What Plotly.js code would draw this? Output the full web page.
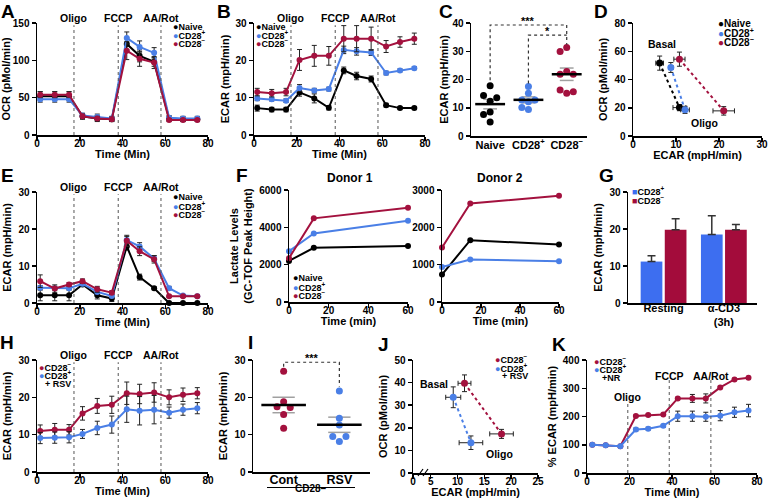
<!DOCTYPE html>
<html><head><meta charset="utf-8">
<script src="https://cdn.plot.ly/plotly-3.0.1.min.js"></script>
<style>html,body{margin:0;padding:0;background:#fff}#chart{width:768px;height:501px}</style>
</head><body><div id="chart"></div>
<script>
// ================= DATA =================
const seahorseTime = [1.5, 8.3, 15, 21.3, 28.2, 35, 42, 48, 54.8, 61.8, 68.3, 75];
const injectionNames = ['Oligo', 'FCCP', 'AA/Rot'];
const injectionTime = [17.3, 38, 58];

// A: OCR (pMol/min)
const aNaive    = [52, 52, 52, 25, 22, 21, 122, 106, 98, 22, 21, 21];
const aNaiveErr = [6, 6, 6, 4, 4, 3, 8, 8, 6, 3, 3, 3];
const aPlus     = [48, 48, 48, 26, 24, 22, 130, 118, 110, 23, 22, 22];
const aPlusErr  = [4, 4, 4, 3, 4, 3, 8, 8, 7, 3, 3, 3];
const aMinus    = [54, 54, 54, 25, 22, 21, 113, 102, 97, 20, 20, 20];
const aMinusErr = [4, 4, 4, 3, 3, 3, 12, 10, 8, 2, 2, 2];

// B: ECAR (mpH/min)
const bNaive    = [7.2, 6.8, 6.8, 11.4, 9.8, 7.3, 17.3, 15.8, 15.0, 8.0, 7.2, 7.2];
const bNaiveErr = [0.8, 0.6, 0.6, 1, 1.2, 0.6, 0.9, 1, 0.8, 0.5, 0.4, 0.4];
const bPlus     = [9.8, 9.6, 9.2, 12.6, 11.9, 12.3, 22.8, 22.4, 22.1, 16.6, 17.3, 17.9];
const bPlusErr  = [0.6, 0.5, 0.5, 0.9, 0.6, 0.5, 1, 1, 0.8, 0.5, 0.4, 0.4];
const bMinus    = [11.5, 11.2, 11.5, 20.1, 21.2, 21.2, 25.8, 25.8, 25.8, 23.7, 24.9, 25.8];
const bMinusErr = [1, 1, 1, 2.8, 2.8, 2.5, 3.5, 3.5, 3.1, 1.6, 1.4, 1.5];

// C: ECAR per donor
const cGroups = ['Naive', 'CD28<sup>+</sup>', 'CD28<sup>−</sup>'];
const cNaive = [17.8, 12.3, 5.0, 14.3, 13.5, 8.5, 7.6];
const cPlus  = [17.5, 15.1, 12.1, 12.7, 12.7, 10.1, 9.4];
const cMinus = [31.3, 29.9, 22.8, 21.9, 21.9, 15.1, 16.3, 15.7];

// D: OCR vs ECAR (basal, oligo)
const dNaiveECAR = [6.2, 10.8],  dNaiveECARErr = [0.9, 1.5], dNaiveOCR = [51.6, 20.1], dNaiveOCRErr = [5, 2.2];
const dPlusECAR  = [8.8, 12.1],  dPlusECARErr  = [0.5, 1.0], dPlusOCR  = [48.5, 18.5], dPlusOCRErr  = [3.5, 2.5];
const dMinusECAR = [10.8, 21.1], dMinusECARErr = [1.3, 2.5], dMinusOCR = [54.4, 17.8], dMinusOCRErr = [5, 3];

// E: ECAR
const eNaive    = [2.1, 2.1, 2.1, 5, 2.1, 1.2, 15.3, 7, 4, 0, 0, 0];
const eNaiveErr = [1.5, 1.5, 1.5, 0.5, 1, 0.8, 1, 0.8, 0.4, 0.2, 0.2, 0.2];
const ePlus     = [4.1, 4, 4, 5.2, 3, 1.9, 17, 15.3, 12, 4, 2, 1.8];
const ePlusErr  = [0.6, 0.5, 0.5, 0.6, 0.5, 0.5, 1, 1, 0.8, 0.5, 0.3, 0.3];
const eMinus    = [5.9, 3.9, 5, 5.9, 3.7, 2.8, 16.8, 14, 11.8, 1.8, 1.8, 1.8];
const eMinusErr = [1.7, 1, 0.5, 0.6, 0.8, 0.5, 1.5, 1.2, 1, 0.3, 0.3, 0.3];

// F: Lactate levels
const fTimeD1  = [0, 12.5, 60];
const fNaiveD1 = [2200, 2900, 3000];
const fPlusD1  = [2720, 3670, 4350];
const fMinusD1 = [2350, 4480, 5050];
const fTimeD2  = [0, 14.5, 60];
const fNaiveD2 = [735, 1655, 1540];
const fPlusD2  = [940, 1137, 1092];
const fMinusD2 = [1460, 2640, 2847];

// G: ECAR bars
const gGroups   = ['Resting', 'α-CD3<br>(3h)'];
const gPlus     = [11.2, 18.5];
const gPlusErr  = [1.6, 5.1];
const gMinus    = [19.8, 19.8];
const gMinusErr = [3.0, 1.4];

// H: ECAR +/- RSV
const hMinus    = [11, 11.3, 11.3, 15.7, 17.7, 18, 21.1, 20.9, 21.3, 20, 20.7, 21.1];
const hMinusErr = [1.6, 1.7, 1.4, 1.8, 2, 2.3, 3, 2.6, 2.6, 2, 1.8, 1.5];
const hRSV      = [9.1, 9.2, 9.3, 10.2, 11.8, 12.7, 16.8, 16.4, 16.7, 15.9, 16.7, 17.1];
const hRSVErr   = [1.5, 1.5, 1.5, 1.2, 1.8, 2.3, 3.5, 3.8, 3.8, 1.5, 1.5, 1.5];

// I: ECAR per donor
const iGroups = ['Cont', 'RSV'];
const iCont = [27.0, 18.8, 15.4, 11.7, 17.5, 17.3];
const iRSV  = [21.7, 14.4, 12.6, 8.2, 9.5, 9.5];

// J: OCR vs ECAR (basal, oligo)
const jMinusECAR = [11.3, 18.2], jMinusECARErr = [1.2, 2.2], jMinusOCR = [39.7, 17.3], jMinusOCRErr = [3.7, 2];
const jRSVECAR   = [9.2, 12.5],  jRSVECARErr   = [1.4, 2.2], jRSVOCR   = [33.5, 13.4], jRSVOCRErr   = [4.6, 3];

// K: % ECAR
const kTime     = [2.5, 8.8, 15.7, 23, 28.8, 35.9, 42.7, 49.6, 55.9, 62.7, 69.4, 76];
const kMinus    = [100, 98, 95, 202, 205, 207, 264, 264, 264, 303, 331, 337];
const kMinusErr = [2, 2, 2, 3, 3, 3, 4, 14, 16, 4, 4, 4];
const kNR       = [100, 98, 95, 154, 157, 167, 201, 201, 199, 203, 215, 221];
const kNRErr    = [3, 3, 3, 5, 5, 5, 18, 18, 16, 18, 18, 22];
const kInjectionTime = [19.2, 38.7, 58.3];

// ================= STYLE / LAYOUT =================
const FONT = '"Liberation Sans", Arial, Helvetica, sans-serif';
const C_NAIVE = '#000000', C_PLUS = '#4a7fe6', C_MINUS = '#a3113e';
const BAR_BLUE = '#3d6ef0', BAR_RED = '#a30c3b';
const W = 768, H = 501;
const PX = x => x / W, PY = y => 1 - y / H;
const xd = (l, r) => [l / W, r / W];
const yd = (t, b) => [1 - b / H, 1 - t / H];
const kLabelLevel = [269, 343, 343];
const kLineTop = [255, 329, 329];
const XLAB_SHIFT = -6;

function axis(extra) {
  return Object.assign({
    showgrid: false, zeroline: false, showline: true, linecolor: '#000', linewidth: 1.5,
    ticks: 'outside', ticklen: 4, tickwidth: 1.5, tickcolor: '#000',
    tickfont: { family: FONT, size: 10, color: '#000', weight: 'bold' },
    fixedrange: true
  }, extra);
}
function xaxisDef(extra) { return axis(Object.assign({ ticklabelstandoff: XLAB_SHIFT }, extra)); }
function ttl(text, standoff, size) {
  return { text, standoff: standoff, font: { family: FONT, size: size || 11, color: '#000', weight: 'bold' } };
}

const traces = [];
const annotations = [];
const shapes = [];

function timeTrace(xa, ya, x, y, err, color, msize) {
  traces.push({
    type: 'scatter', mode: 'lines+markers', x, y, xaxis: xa, yaxis: ya,
    line: { color, width: 2 }, marker: { color, size: msize || 6 },
    error_y: err ? { type: 'data', array: err, color: '#222', thickness: 1, width: 2.5 } : undefined,
    showlegend: false, hoverinfo: 'skip', cliponaxis: false
  });
}
function xyTrace(xa, ya, x, xe, y, ye, color) {
  traces.push({
    type: 'scatter', mode: 'lines+markers', x, y, xaxis: xa, yaxis: ya,
    line: { color, width: 2, dash: 'dot' }, marker: { color, size: 7 },
    error_x: { type: 'data', array: xe, color: '#222', thickness: 1, width: 2.5 },
    error_y: { type: 'data', array: ye, color: '#222', thickness: 1, width: 2.5 },
    showlegend: false, hoverinfo: 'skip', cliponaxis: false
  });
}
function swarm(values, pxPerUnitX, pxPerUnitY, diam) {
  const placed = [], offs = [];
  values.forEach(v => {
    const yPx = v * pxPerUnitY;
    let chosen = 0;
    for (let k = 0; k < 14; k++) {
      const cand = k === 0 ? 0 : (k % 2 === 1 ? -1 : 1) * Math.ceil(k / 2) * diam;
      if (placed.every(p => (p.x - cand) ** 2 + (p.y - yPx) ** 2 >= diam * diam - 0.01)) { chosen = cand; break; }
    }
    placed.push({ x: chosen, y: yPx });
    offs.push(chosen / pxPerUnitX);
  });
  return offs;
}
const mean = a => a.reduce((s, v) => s + v, 0) / a.length;
const sem = a => { const m = mean(a); return Math.sqrt(a.reduce((s, v) => s + (v - m) ** 2, 0) / (a.length - 1)) / Math.sqrt(a.length); };

function dotGroup(xa, ya, idx, vals, color, pxX, pxY, meanHalf, semHalf) {
  const m = mean(vals), s = sem(vals);
  [m + s, m - s].forEach(v => traces.push({ type: 'scatter', mode: 'lines', x: [idx - semHalf, idx + semHalf], y: [v, v], xaxis: xa, yaxis: ya, line: { color: '#a0a0a0', width: 1.5 }, showlegend: false, hoverinfo: 'skip' }));
  const offs = swarm(vals, pxX, pxY, 6.6);
  traces.push({ type: 'scatter', mode: 'markers', x: vals.map((v, i) => idx + offs[i]), y: vals, xaxis: xa, yaxis: ya, marker: { color, size: 7 }, showlegend: false, hoverinfo: 'skip', cliponaxis: false });
  traces.push({ type: 'scatter', mode: 'lines', x: [idx - meanHalf, idx + meanHalf], y: [m, m], xaxis: xa, yaxis: ya, line: { color: '#000', width: 2.5 }, showlegend: false, hoverinfo: 'skip' });
}

function legendBlock(x, yTop, dy, items, size) {
  items.forEach((it, i) => annotations.push({
    xref: 'paper', yref: 'paper', x: PX(x), y: PY(yTop + i * dy), xanchor: 'left', yanchor: 'middle', showarrow: false,
    text: it.color ? `<span style="color:${it.color}">${it.mark || '●'}</span>${it.label}` : it.label,
    font: { family: FONT, size: size, color: '#000', weight: 'bold' }
  }));
}
function letter(t, x, y) {
  annotations.push({ xref: 'paper', yref: 'paper', x: PX(x), y: PY(y), xanchor: 'center', yanchor: 'middle', showarrow: false, text: t, font: { family: FONT, size: 19, color: '#000', weight: 'bold' } });
}
function injections(xa, ya, times, levels, tops) {
  times.forEach((t, i) => {
    if (levels) {
      shapes.push({ type: 'line', xref: xa, yref: ya, x0: t, x1: t, y0: 0, y1: tops[i], line: { color: '#555', width: 1, dash: 'dot' } });
      annotations.push({ xref: xa, yref: ya, x: t, y: levels[i], xanchor: 'center', yanchor: 'middle', showarrow: false, text: injectionNames[i], font: { family: FONT, size: 10.5, color: '#000', weight: 'bold' } });
    } else {
      shapes.push({ type: 'line', xref: xa, yref: ya + ' domain', x0: t, x1: t, y0: 0, y1: 0.98, line: { color: '#555', width: 1, dash: 'dot' } });
      annotations.push({ xref: xa, yref: ya + ' domain', x: t, y: 1, yshift: -3, xanchor: 'center', yanchor: 'bottom', showarrow: false, text: injectionNames[i], font: { family: FONT, size: 10.5, color: '#000', weight: 'bold' } });
    }
  });
}

// ---- A ----
timeTrace('x', 'y', seahorseTime, aNaive, aNaiveErr, C_NAIVE);
timeTrace('x', 'y', seahorseTime, aPlus, aPlusErr, C_PLUS);
timeTrace('x', 'y', seahorseTime, aMinus, aMinusErr, C_MINUS);
injections('x', 'y', injectionTime);
// ---- B ----
timeTrace('x2', 'y2', seahorseTime, bNaive, bNaiveErr, C_NAIVE);
timeTrace('x2', 'y2', seahorseTime, bPlus, bPlusErr, C_PLUS);
timeTrace('x2', 'y2', seahorseTime, bMinus, bMinusErr, C_MINUS);
injections('x2', 'y2', injectionTime);
// ---- C ----
const C_DOM = [471, 587], C_RANGE = [-0.5, 2.53], C_YDOM = [23, 136], C_YMAX = 40;
const cPxX = (C_DOM[1] - C_DOM[0]) / (C_RANGE[1] - C_RANGE[0]), cPxY = (C_YDOM[1] - C_YDOM[0]) / C_YMAX;
dotGroup('x3', 'y3', 0, cNaive, C_NAIVE, cPxX, cPxY, 0.39, 0.18);
dotGroup('x3', 'y3', 1, cPlus, C_PLUS, cPxX, cPxY, 0.39, 0.18);
dotGroup('x3', 'y3', 2, cMinus, C_MINUS, cPxX, cPxY, 0.39, 0.18);
shapes.push({ type: 'path', xref: 'x3', yref: 'y3', path: 'M 0,19.7 L 0,39.3 L 2,39.3 L 2,32.4', line: { color: '#333', width: 1.2, dash: 'dot' } });
shapes.push({ type: 'path', xref: 'x3', yref: 'y3', path: 'M 1,18.6 L 1,35.7 L 2,35.7', line: { color: '#333', width: 1.2, dash: 'dot' } });
annotations.push({ xref: 'x3', yref: 'y3', x: 1, y: 39.3, yanchor: 'bottom', yshift: -4, showarrow: false, text: '***', font: { family: FONT, size: 11, weight: 'bold', color: '#000' } });
annotations.push({ xref: 'x3', yref: 'y3', x: 1.5, y: 35.7, yanchor: 'bottom', yshift: -4, showarrow: false, text: '*', font: { family: FONT, size: 11, weight: 'bold', color: '#000' } });
// ---- D ----
xyTrace('x4', 'y4', dNaiveECAR, dNaiveECARErr, dNaiveOCR, dNaiveOCRErr, C_NAIVE);
xyTrace('x4', 'y4', dPlusECAR, dPlusECARErr, dPlusOCR, dPlusOCRErr, C_PLUS);
xyTrace('x4', 'y4', dMinusECAR, dMinusECARErr, dMinusOCR, dMinusOCRErr, C_MINUS);
annotations.push({ xref: 'x4', yref: 'y4', x: 6.7, y: 65, showarrow: false, text: 'Basal', font: { family: FONT, size: 10.5, weight: 'bold', color: '#000' } });
annotations.push({ xref: 'x4', yref: 'y4', x: 16.7, y: 9.2, showarrow: false, text: 'Oligo', font: { family: FONT, size: 10.5, weight: 'bold', color: '#000' } });
// ---- E ----
timeTrace('x5', 'y5', seahorseTime, eNaive, eNaiveErr, C_NAIVE);
timeTrace('x5', 'y5', seahorseTime, ePlus, ePlusErr, C_PLUS);
timeTrace('x5', 'y5', seahorseTime, eMinus, eMinusErr, C_MINUS);
injections('x5', 'y5', injectionTime);
// ---- F ----
timeTrace('x6', 'y6', fTimeD1, fNaiveD1, null, C_NAIVE, 6);
timeTrace('x6', 'y6', fTimeD1, fPlusD1, null, C_PLUS, 6);
timeTrace('x6', 'y6', fTimeD1, fMinusD1, null, C_MINUS, 6);
timeTrace('x7', 'y7', fTimeD2, fNaiveD2, null, C_NAIVE, 6);
timeTrace('x7', 'y7', fTimeD2, fPlusD2, null, C_PLUS, 6);
timeTrace('x7', 'y7', fTimeD2, fMinusD2, null, C_MINUS, 6);
annotations.push({ xref: 'paper', yref: 'paper', x: PX(350), y: PY(178), showarrow: false, text: 'Donor 1', font: { family: FONT, size: 12, weight: 'bold', color: '#000' } });
annotations.push({ xref: 'paper', yref: 'paper', x: PX(500), y: PY(178), showarrow: false, text: 'Donor 2', font: { family: FONT, size: 12, weight: 'bold', color: '#000' } });
// ---- G ----
traces.push({ type: 'bar', x: [0, 1], y: gPlus, xaxis: 'x8', yaxis: 'y8', marker: { color: BAR_BLUE, line: { width: 0 } }, error_y: { type: 'data', array: gPlusErr, arrayminus: [0, 0], color: '#333', thickness: 1.5, width: 4 }, showlegend: false, hoverinfo: 'skip' });
traces.push({ type: 'bar', x: [0, 1], y: gMinus, xaxis: 'x8', yaxis: 'y8', marker: { color: BAR_RED, line: { width: 0 } }, error_y: { type: 'data', array: gMinusErr, arrayminus: [0, 0], color: '#333', thickness: 1.5, width: 4 }, showlegend: false, hoverinfo: 'skip' });
// ---- H ----
timeTrace('x9', 'y9', seahorseTime, hMinus, hMinusErr, C_MINUS);
timeTrace('x9', 'y9', seahorseTime, hRSV, hRSVErr, C_PLUS);
injections('x9', 'y9', injectionTime);
// ---- I ----
const I_DOM = [253, 370], I_RANGE = [-0.55, 1.55], I_YDOM = [360, 472], I_YMAX = 30;
const iPxX = (I_DOM[1] - I_DOM[0]) / (I_RANGE[1] - I_RANGE[0]), iPxY = (I_YDOM[1] - I_YDOM[0]) / I_YMAX;
dotGroup('x10', 'y10', 0, iCont, C_MINUS, iPxX, iPxY, 0.4, 0.2);
dotGroup('x10', 'y10', 1, iRSV, C_PLUS, iPxX, iPxY, 0.4, 0.2);
shapes.push({ type: 'path', xref: 'x10', yref: 'y10', path: 'M 0,28.2 L 0,29.4 L 1,29.4 L 1,22.9', line: { color: '#333', width: 1.2, dash: 'dot' } });
annotations.push({ xref: 'x10', yref: 'y10', x: 0.5, y: 29.4, yanchor: 'bottom', yshift: -4, showarrow: false, text: '***', font: { family: FONT, size: 11, weight: 'bold', color: '#000' } });
shapes.push({ type: 'line', xref: 'paper', yref: 'paper', x0: PX(267), x1: PX(355), y0: PY(487.5), y1: PY(487.5), line: { color: '#000', width: 1.2 } });
annotations.push({ xref: 'paper', yref: 'paper', x: PX(311), y: PY(495.5), showarrow: false, text: 'CD28–', font: { family: FONT, size: 10, weight: 'bold', color: '#000' } });
// ---- J ----
xyTrace('x11', 'y11', jMinusECAR, jMinusECARErr, jMinusOCR, jMinusOCRErr, C_MINUS);
xyTrace('x11', 'y11', jRSVECAR, jRSVECARErr, jRSVOCR, jRSVOCRErr, C_PLUS);
annotations.push({ xref: 'x11', yref: 'y11', x: 5.6, y: 39.4, showarrow: false, text: 'Basal', font: { family: FONT, size: 10.5, weight: 'bold', color: '#000' } });
annotations.push({ xref: 'x11', yref: 'y11', x: 17.8, y: 8.4, showarrow: false, text: 'Oligo', font: { family: FONT, size: 10.5, weight: 'bold', color: '#000' } });
shapes.push({ type: 'line', xref: 'paper', yref: 'paper', x0: PX(418), x1: PX(423), y0: PY(476), y1: PY(469), line: { color: '#000', width: 1.2 } });
shapes.push({ type: 'line', xref: 'paper', yref: 'paper', x0: PX(423), x1: PX(428), y0: PY(476), y1: PY(469), line: { color: '#000', width: 1.2 } });
// ---- K ----
timeTrace('x12', 'y12', kTime, kMinus, kMinusErr, C_MINUS);
timeTrace('x12', 'y12', kTime, kNR, kNRErr, C_PLUS);
injections('x12', 'y12', kInjectionTime, kLabelLevel, kLineTop);

// ---- legends (as text) ----
const LN = { color: C_NAIVE, label: 'Naive' }, LP = { color: C_PLUS, label: 'CD28<sup>+</sup>' }, LM = { color: C_MINUS, label: 'CD28<sup>−</sup>' };
legendBlock(171, 27.3, 8, [LN, LP, LM], 9);
legendBlock(253.5, 27.3, 8, [LN, LP, LM], 9);
legendBlock(716, 23.3, 9.2, [LN, LP, LM], 10);
legendBlock(171, 197.3, 8.5, [LN, LP, LM], 9);
legendBlock(291, 278, 8.5, [LN, LP, LM], 9);
legendBlock(630, 191, 9, [{ color: BAR_BLUE, mark: '■', label: 'CD28<sup>+</sup>' }, { color: BAR_RED, mark: '■', label: 'CD28<sup>−</sup>' }], 9);
legendBlock(37, 366.7, 8.3, [LM, LP], 9);
legendBlock(43, 384, 0, [{ label: '+ RSV' }], 9);
legendBlock(493, 359.3, 8.3, [LM, LP], 9);
legendBlock(500, 376, 0, [{ label: '+ RSV' }], 9);
legendBlock(591.5, 361, 8.3, [LM, LP], 9);
legendBlock(600, 378, 0, [{ label: '+NR' }], 9);

// ---- panel letters ----
[['A', 8, 11], ['B', 224, 11], ['C', 446, 11], ['D', 601, 11], ['E', 7, 175], ['F', 241.5, 175], ['G', 606.5, 175],
 ['H', 7, 342], ['I', 250.5, 342], ['J', 383, 344], ['K', 559, 344]].forEach(l => letter(...l));

const layout = {
  width: W, height: H, margin: { l: 0, r: 0, t: 0, b: 0 },
  paper_bgcolor: '#fff', plot_bgcolor: 'rgba(0,0,0,0)', showlegend: false,
  font: { family: FONT, color: '#000' },
  barmode: 'group', bargap: 0.2, bargroupgap: 0.1,
  // A
  xaxis:  xaxisDef({ domain: xd(37, 208), range: [0, 80], anchor: 'y', tickvals: [0, 20, 40, 60, 80], title: ttl('Time (Min)', 1) }),
  yaxis:  axis({ domain: yd(23, 135), range: [0, 150], anchor: 'x', tickvals: [0, 50, 100, 150], title: ttl('OCR (pMol/min)', 4) }),
  // B
  xaxis2: xaxisDef({ domain: xd(254, 425), range: [0, 80], anchor: 'y2', tickvals: [0, 20, 40, 60, 80], title: ttl('Time (Min)', 1) }),
  yaxis2: axis({ domain: yd(23, 135), range: [0, 30], anchor: 'x2', tickvals: [0, 10, 20, 30], title: ttl('ECAR (mpH/min)', 3) }),
  // C
  xaxis3: xaxisDef({ domain: xd(C_DOM[0], C_DOM[1]), range: C_RANGE, anchor: 'y3', ticks: '', ticklabelstandoff: -2, tickvals: [0, 1, 2], ticktext: cGroups, tickfont: { family: FONT, size: 11, color: '#000', weight: 'bold' } }),
  yaxis3: axis({ domain: yd(C_YDOM[0], C_YDOM[1]), range: [0, C_YMAX], anchor: 'x3', tickvals: [0, 10, 20, 30, 40], title: ttl('ECAR (mpH/min)', 1) }),
  // D
  xaxis4: xaxisDef({ domain: xd(633, 762), range: [0, 30], anchor: 'y4', tickvals: [0, 10, 20, 30], title: ttl('ECAR (mpH/min)', 1) }),
  yaxis4: axis({ domain: yd(23, 136), range: [0, 80], anchor: 'x4', tickvals: [0, 20, 40, 60, 80], title: ttl('OCR (pMol/min)', 4) }),
  // E
  xaxis5: xaxisDef({ domain: xd(37, 208), range: [0, 80], anchor: 'y5', tickvals: [0, 20, 40, 60, 80], title: ttl('Time (Min)', 1) }),
  yaxis5: axis({ domain: yd(192, 303), range: [0, 30], anchor: 'x5', tickvals: [0, 10, 20, 30], title: ttl('ECAR (mpH/min)', 4) }),
  // F donor 1
  xaxis6: xaxisDef({ domain: xd(289, 408), range: [0, 60], anchor: 'y6', tickvals: [0, 20, 40, 60], title: ttl('Time (min)', 1) }),
  yaxis6: axis({ domain: yd(190, 302), range: [0, 6000], anchor: 'x6', tickvals: [0, 2000, 4000, 6000], title: ttl('Lactate Levels<br>(GC-TOF Peak Height)', 4) }),
  // F donor 2
  xaxis7: xaxisDef({ domain: xd(442, 559), range: [0, 60], anchor: 'y7', tickvals: [0, 20, 40, 60], title: ttl('Time (min)', 1) }),
  yaxis7: axis({ domain: yd(190, 302), range: [0, 3000], anchor: 'x7', tickvals: [0, 1000, 2000, 3000] }),
  // G
  xaxis8: xaxisDef({ domain: xd(628, 757), range: [-0.59, 1.55], anchor: 'y8', ticks: '', tickvals: [0, 1], ticktext: gGroups, tickfont: { family: FONT, size: 11, color: '#000', weight: 'bold' } }),
  yaxis8: axis({ domain: yd(192, 303), range: [0, 30], anchor: 'x8', tickvals: [0, 10, 20, 30], title: ttl('ECAR (mpH/min)', 4) }),
  // H
  xaxis9: xaxisDef({ domain: xd(37, 208), range: [0, 80], anchor: 'y9', tickvals: [0, 20, 40, 60, 80], title: ttl('Time (Min)', 1) }),
  yaxis9: axis({ domain: yd(360, 472), range: [0, 30], anchor: 'x9', tickvals: [0, 10, 20, 30], title: ttl('ECAR (mpH/min)', 4) }),
  // I
  xaxis10: xaxisDef({ domain: xd(I_DOM[0], I_DOM[1]), range: I_RANGE, anchor: 'y10', ticks: '', ticklabelstandoff: -5, tickvals: [0, 1], ticktext: iGroups, tickfont: { family: FONT, size: 12.5, color: '#000', weight: 'bold' } }),
  yaxis10: axis({ domain: yd(I_YDOM[0], I_YDOM[1]), range: [0, I_YMAX], anchor: 'x10', tickvals: [0, 10, 20, 30], title: ttl('ECAR (mpH/min)', 4) }),
  // J
  xaxis11: xaxisDef({ domain: xd(413, 538), range: [1.7, 25], anchor: 'y11', tickvals: [1.7, 5, 10, 15, 20, 25], ticktext: ['0', '5', '10', '15', '20', '25'], title: ttl('ECAR (mpH/min)', 1) }),
  yaxis11: axis({ domain: yd(360, 473), range: [0, 50], anchor: 'x11', tickvals: [0, 10, 20, 30, 40, 50], title: ttl('OCR (pMol/min)', 4) }),
  // K
  xaxis12: xaxisDef({ domain: xd(587, 757), range: [0, 80], anchor: 'y12', tickvals: [0, 20, 40, 60, 80], title: ttl('Time (Min)', 1) }),
  yaxis12: axis({ domain: yd(360, 473), range: [0, 400], anchor: 'x12', tickvals: [0, 100, 200, 300, 400], title: ttl('% ECAR (mpH/min)', 4) }),
  annotations, shapes
};

Plotly.newPlot('chart', traces, layout, { staticPlot: true, displayModeBar: false });
</script>
</body></html>
